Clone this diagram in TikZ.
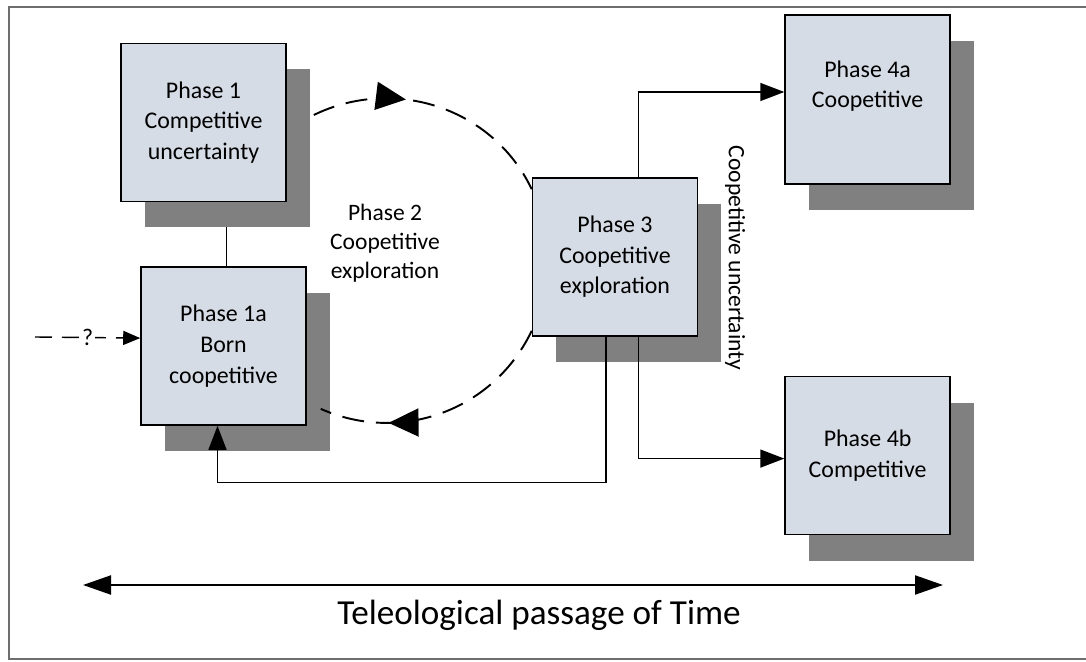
\documentclass[tikz,border=0pt]{standalone}
\usepackage{fontspec}
\setmainfont{Carlito}
\usepackage{xcolor}
\usepackage{tikz}
\usetikzlibrary{shapes.geometric, arrows.meta, positioning, calc, backgrounds, shadows, decorations.markings}

\definecolor{boxfill}{RGB}{214,220,229}
\definecolor{boxshadow}{RGB}{128,128,128}
\definecolor{framegray}{RGB}{110,110,110}

\begin{document}
\begin{tikzpicture}[node distance=1.5cm]
    % Styles
    \tikzstyle{phase} = [rectangle, draw, line width=0.9pt, fill=boxfill, align=center, minimum width=3.3cm, minimum height=3.16cm, font=\fontsize{13.6}{17.4}\selectfont, drop shadow={shadow xshift=0.47cm, shadow yshift=-0.52cm, fill=boxshadow, opacity=1}]
    \tikzstyle{phasenote} = [align=center, font=\fontsize{13.4}{16.6}\selectfont]
    \tikzstyle{link} = [draw, line width=0.8pt, -{Triangle[length=0.48cm, width=0.36cm]}]
    \tikzstyle{loopline} = [draw, line width=1.1pt, dash pattern=on 0.44cm off 0.24cm]
    \tikzstyle{timeline} = [draw, line width=1.2pt, {Triangle[length=0.56cm, width=0.38cm]}-{Triangle[length=0.56cm, width=0.38cm]}]

    \useasboundingbox (0,0) rectangle (21.72,13.22);
    \draw[framegray, line width=1.2pt] (22,13.08) -- (0.18,13.08) -- (0.18,0.04) -- (22,0.04);

    % Nodes
    \node [phase] (p1) at (4.07,10.77) {Phase 1\\Competitive\\uncertainty};
    \node [phase, below=1.28cm of p1, xshift=0.4cm] (p1a) {Phase 1a\\Born\\coopetitive};
    \node [phase] (p3) at (12.30,8.08) {Phase 3\\Coopetitive\\exploration};
    \node [phase, minimum height=3.38cm, right=1.72cm of p3, yshift=3.15cm] (p4a) {Phase 4a\\Coopetitive\\\mbox{}};
    \node [phase, below=3.82cm of p4a] (p4b) {Phase 4b\\Competitive};

    % Labels
    \node [phasenote] (ph2) at (7.70,8.36) {Phase 2\\Coopetitive\\exploration};
    \node [phasenote, rotate=-90] (unc) at (14.70,8.06) {Coopetitive uncertainty};
    \node [font=\fontsize{20}{24}\selectfont] (time) at (10.78,0.92) {Teleological passage of Time};

    \coordinate (qin) at (0.70,6.48);
    \coordinate (tl) at (1.66,1.52);
    \coordinate (tr) at (18.86,1.52);

    % Paths
    \begin{scope}[on background layer]
        \draw [line width=0.8pt] ([xshift=0.06cm]p1a.north) -- ++(0,1.28);
    \end{scope}
    \path [link] ([xshift=0.47cm]p3.north) |- ([yshift=0.15cm]p4a.west);
    \path [link] ([xshift=0.47cm]p3.south) |- ([yshift=-0.06cm]p4b.west);
    \path [link] ([xshift=-0.18cm]p3.south) -- ++(0,-2.92) -| ([xshift=-0.12cm]p1a.south);
    \path [loopline, postaction={decorate, decoration={markings, mark=at position 0.37 with {\arrow{Triangle[length=0.6cm, width=0.56cm]}}}}]
        ([shift={(0.54,0.15)}]p1.east) to[out=26, in=115.5] ([yshift=-0.24cm]p3.north west);
    \path [loopline, postaction={decorate, decoration={markings, mark=at position 0.72 with {\arrow{Triangle[length=0.6cm, width=0.56cm]}}}}]
        ([yshift=0.12cm]p3.south west) to[out=244.5, in=-24] ([shift={(0.28,0.34)}]p1a.south east);
    \path [draw, line width=0.8pt, dash pattern=on 0.34cm off 0.2cm, -{Triangle[length=0.34cm, width=0.28cm]}]
        (qin) -- node[fill=white, inner sep=1pt, font=\fontsize{13.6}{16.8}\selectfont] (q) {?} ([yshift=0.16cm]p1a.west);
    \path [timeline] (tl) -- (tr);
\end{tikzpicture}
\end{document}
